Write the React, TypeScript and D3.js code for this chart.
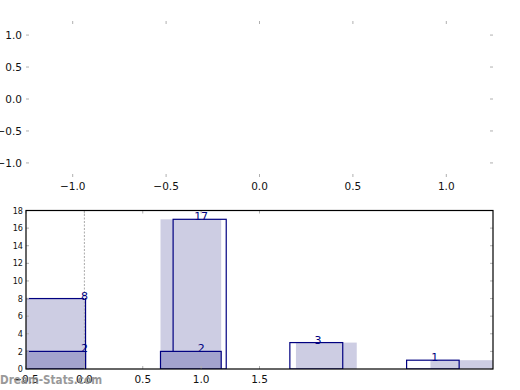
import React from 'react';
import * as d3 from 'd3';

// top (empty) panel ticks
const topXTicks = [-1.0, -0.5, 0.0, 0.5, 1.0];
const topYTicks = [1.0, 0.5, 0.0, -0.5, -1.0];

// bottom panel histogram
const xTicks = [-0.5, 0.0, 0.5, 1.0, 1.5];
const yTicks = [0, 2, 4, 6, 8, 10, 12, 14, 16, 18];

const lightStart = [-0.52, 0.652, 1.812, 2.964];
const lightEnd = [0.01, 1.172, 2.333, 3.55];
const lightCounts = [8, 17, 3, 1];

const outlineStart = [-0.52, 0.76, 1.76, 2.76];
const outlineEnd = [0.01, 1.215, 2.213, 3.21];
const outlineCounts = [8, 17, 3, 1];

const darkStart = [-0.52, 0.652];
const darkEnd = [0.01, 1.172];
const darkCounts = [2, 2];

const labelX = [0, 1, 2, 3];
const darkLabelX = [0, 1];

const LIGHT = '#cdcde3';
const DARK = '#a3a3ce';
const NAVY = '#000080';
const TICK = '#b0b0b0';
const FONT = "'DejaVu Sans', sans-serif";
const COND = "'DejaVu Sans Condensed', 'DejaVu Sans', sans-serif";

export default function App() {
  const L = 26, R = 493;

  const tx = d3.scaleLinear().domain([-1.25, 1.25]).range([L, R]);
  const ty = d3.scaleLinear().domain([-1.22, 1.22]).range([177, 21]);

  const x = d3.scaleLinear().domain([-0.5, 3.5]).range([L, R]);
  const y = d3.scaleLinear().domain([0, 18]).range([369, 210.5]);
  const [b0, b1] = [y(0), y(18)];

  return (
    <svg width={520} height={390} style={{ position: 'absolute', left: 0, top: 0 }}>
      <rect width={520} height={390} fill="white" />

      {/* top panel: ticks only */}
      <g>
        {topXTicks.map(t => (
          <g key={'tx' + t}>
            <line x1={tx(t)} x2={tx(t)} y1={21} y2={24} stroke={TICK} strokeWidth={1} />
            <line x1={tx(t)} x2={tx(t)} y1={174} y2={177} stroke={TICK} strokeWidth={1} />
            <text x={tx(t)} y={190} fontSize={10.5} fontFamily={FONT} textAnchor="middle" fill="#111">
              {d3.format('.1f')(t).replace('-', '\u2212')}
            </text>
          </g>
        ))}
        {topYTicks.map(t => (
          <g key={'ty' + t}>
            <line x1={L} x2={L + 3} y1={ty(t)} y2={ty(t)} stroke={TICK} strokeWidth={1} />
            <line x1={R - 3} x2={R} y1={ty(t)} y2={ty(t)} stroke={TICK} strokeWidth={1} />
            <text x={22} y={ty(t)} dy="0.35em" fontSize={10.5} fontFamily={FONT} textAnchor="end" fill="#111">
              {d3.format('.1f')(t).replace('-', '\u2212')}
            </text>
          </g>
        ))}
      </g>

      {/* bottom panel */}
      <defs>
        <clipPath id="plot">
          <rect x={L} y={b1} width={R - L} height={b0 - b1} />
        </clipPath>
      </defs>
      <g clipPath="url(#plot)">
        {lightCounts.map((c, i) => (
          <rect key={'l' + i} x={x(lightStart[i])} y={y(c)} width={x(lightEnd[i]) - x(lightStart[i])}
            height={y(0) - y(c)} fill={LIGHT} />
        ))}
        {outlineCounts.map((c, i) => (
          <rect key={'o' + i} x={x(outlineStart[i])} y={y(c)} width={x(outlineEnd[i]) - x(outlineStart[i])}
            height={y(0) - y(c)} fill="none" stroke={NAVY} strokeWidth={1.2} />
        ))}
        {darkCounts.map((c, i) => (
          <rect key={'d' + i} x={x(darkStart[i])} y={y(c)} width={x(darkEnd[i]) - x(darkStart[i])}
            height={y(0) - y(c)} fill={DARK} stroke={NAVY} strokeWidth={1.2} />
        ))}
        <line x1={x(0)} x2={x(0)} y1={b1} y2={b0} stroke="#aaa" strokeWidth={1} strokeDasharray="2,1.5" />
      </g>

      {lightCounts.map((c, i) => (
        <text key={'lt' + i} x={x(labelX[i])} y={y(c) + 1} fontSize={11} fontFamily={FONT}
          textAnchor="middle" fill={NAVY}>{c}</text>
      ))}
      {darkCounts.map((c, i) => (
        <text key={'dt' + i} x={x(darkLabelX[i])} y={y(c) + 1} fontSize={11} fontFamily={FONT}
          textAnchor="middle" fill={NAVY}>{c}</text>
      ))}

      {/* ticks */}
      {yTicks.map(t => (
        <g key={'yt' + t}>
          <line x1={L} x2={L + 3} y1={y(t)} y2={y(t)} stroke={TICK} strokeWidth={1} />
          <line x1={R - 3} x2={R} y1={y(t)} y2={y(t)} stroke={TICK} strokeWidth={1} />
          <text x={23} y={y(t)} dy="0.35em" fontSize={9} fontFamily={COND} textAnchor="end" fill="#111">{t}</text>
        </g>
      ))}
      {xTicks.map(t => (
        <g key={'xt' + t}>
          <line x1={x(t)} x2={x(t)} y1={b1} y2={b1 + 3} stroke={TICK} strokeWidth={1} />
          <line x1={x(t)} x2={x(t)} y1={b0 - 3} y2={b0} stroke={TICK} strokeWidth={1} />
          <text x={x(t)} y={383} fontSize={10.5} fontFamily={FONT} textAnchor="middle" fill="#111">
            {d3.format('.1f')(t).replace('-', '\u2212')}
          </text>
        </g>
      ))}
      <rect x={L} y={b1} width={R - L} height={b0 - b1} fill="none" stroke="#000" strokeWidth={1.2} />

      <text x={0} y={383.5} fontSize={13} fontWeight="bold" fontFamily={COND} fill="#888" opacity={0.85}
        textLength={102} lengthAdjust="spacingAndGlyphs">Dream-Stats.com</text>
    </svg>
  );
}
